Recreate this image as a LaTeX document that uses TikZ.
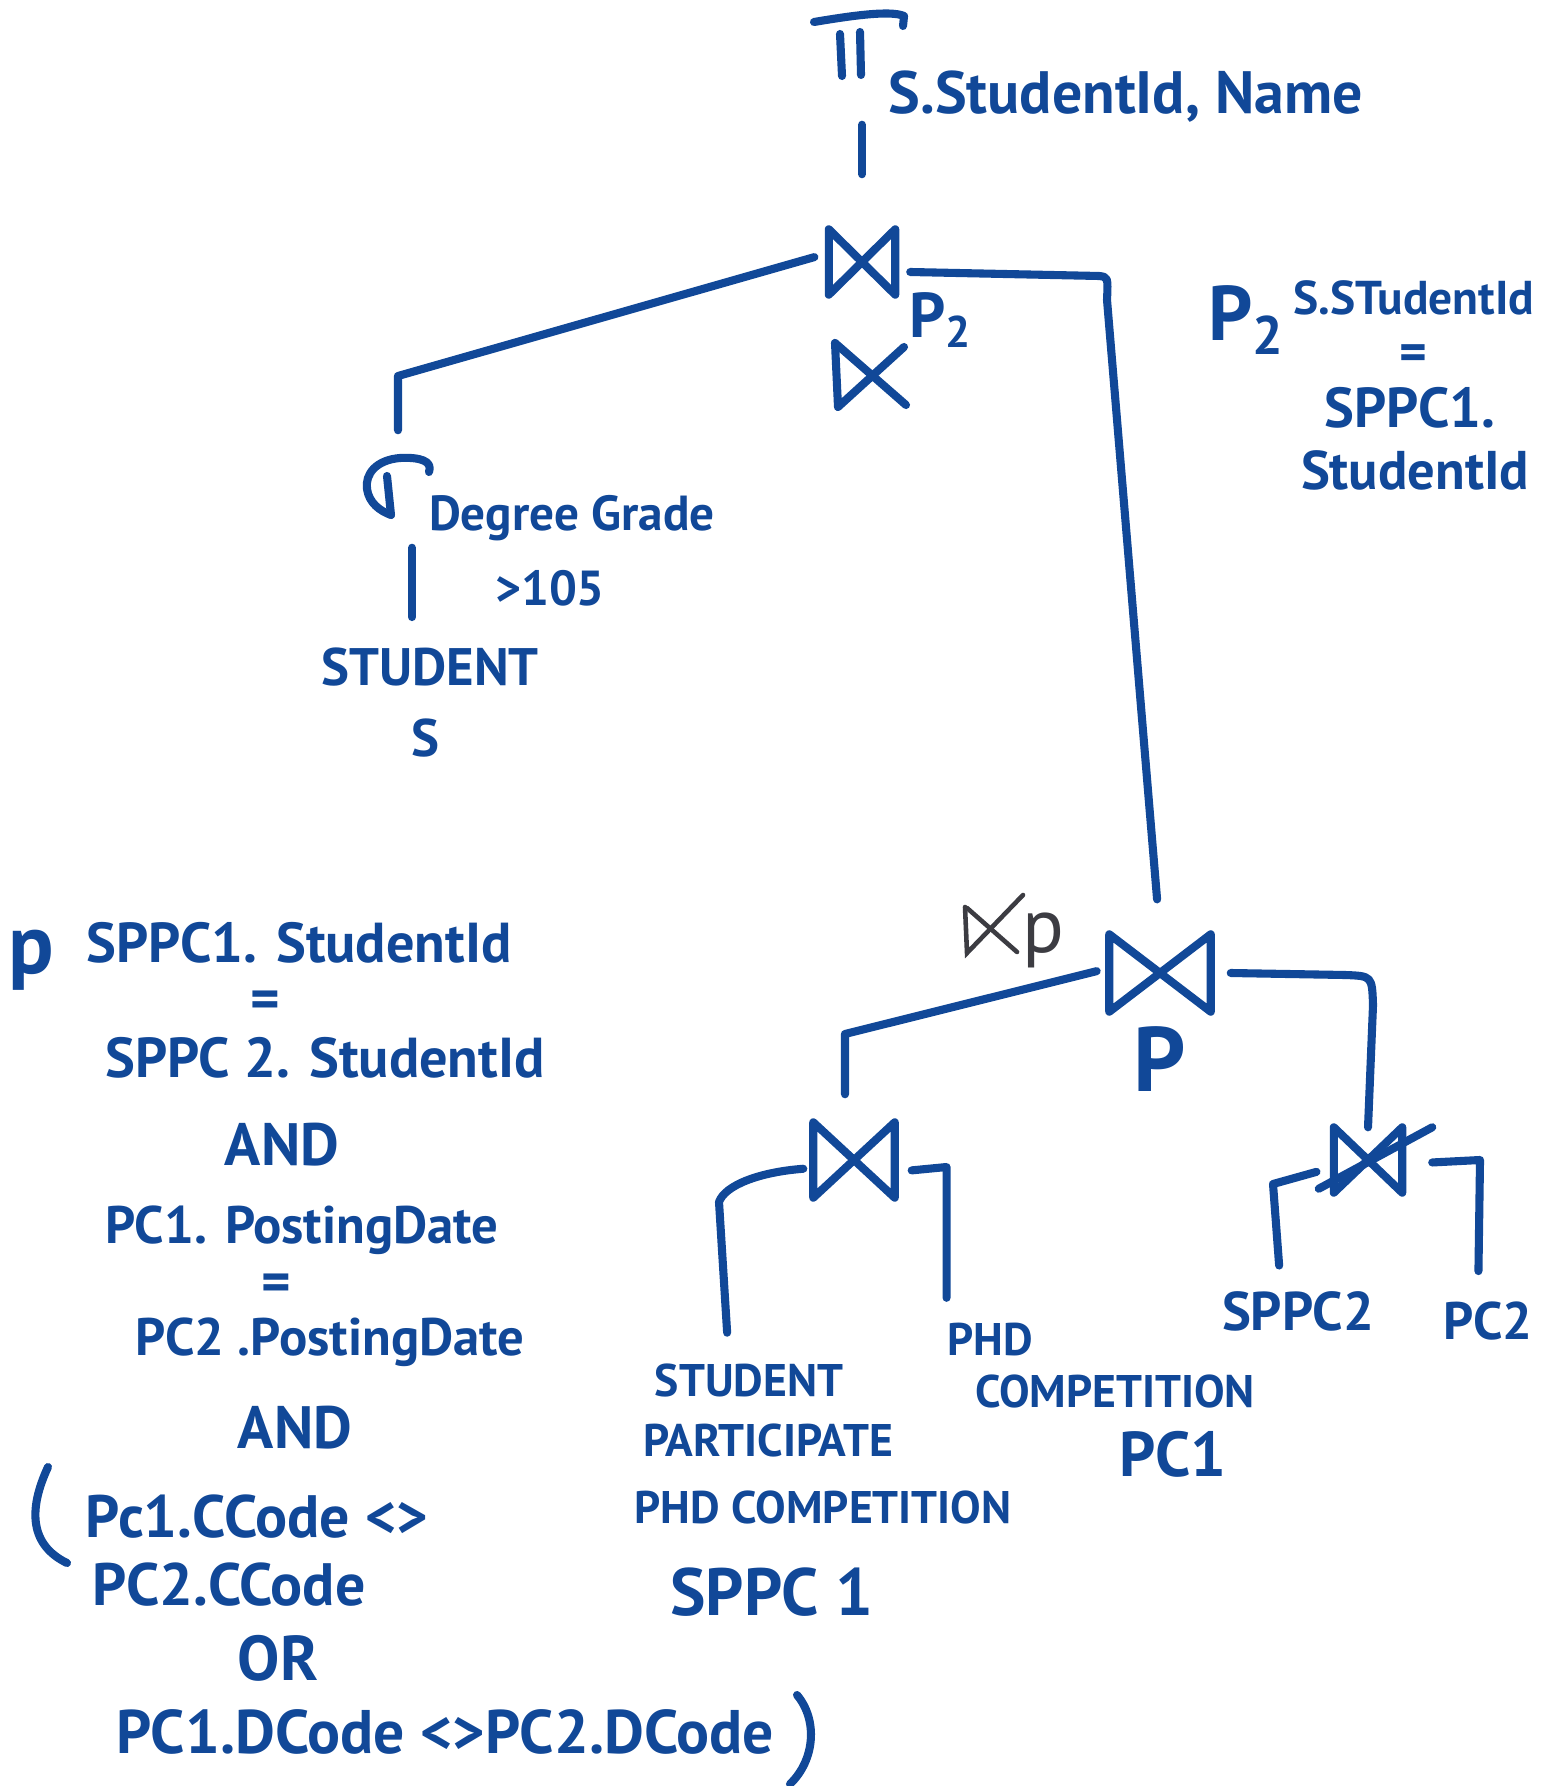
\documentclass[tikz,border=0pt]{standalone}
\usepackage{fontspec}
\setmainfont{PT Sans}
\usetikzlibrary{positioning}

\definecolor{ink}{RGB}{17,72,152}
\definecolor{pencil}{RGB}{60,60,66}

\tikzset{
  stroke/.style={draw=ink, line width=2.3pt, line cap=round, line join=round},
  lab/.style={text=ink, inner sep=0pt, font=\bfseries\fontsize{#1}{#1}\selectfont},
  op/.style={inner sep=0pt}
}

% bowtie drawn over an operator node
\newcommand{\joinmark}[1]{\draw[stroke] (#1.north west) -- (#1.south west) -- (#1.north east) -- (#1.south east) -- cycle;}

\begin{document}
\begin{tikzpicture}[x=0.01cm, y=-0.01cm]
	\useasboundingbox (0,0) rectangle (1543,1786);
	
	% projection
	\node[op, minimum width=0.9cm, minimum height=0.62cm] (proj) at (858,48) {};
	\draw[stroke] (814,22) .. controls (850,16) and (890,10) .. (904,16) -- (903,26);
	\draw[stroke] (840,34) -- (842,76);
	\draw[stroke] (860,32) -- (861,75);
	\node[lab=17, anchor=west] (projattr) at (888,97) {S.StudentId, Name};
	
	% top join
	\node[op, minimum width=0.65cm, minimum height=0.64cm] (top) at (862,262) {};
	\joinmark{top}
	\draw[stroke, shorten <=0.45cm, shorten >=0.55cm] (proj.south -| top.north) -- (top.north);
	\node[lab=18] (toplab) at (941,320) {P\textsubscript{2}};
	\draw[stroke] (835,343) -- (838,407) -- (904,347);
	\draw[stroke] (835,343) -- (906,405);
	
	% condition p2
	\node[lab=22] (p2cond) at (1247,320) {P\textsubscript{2}};
	\node[lab=13.5] (d1) at (1414,298) {S.STudentId};
	\node[lab=15] (d2) at (1413,358) {=};
	\node[lab=16] (d3) at (1410,408) {SPPC1.};
	\node[lab=15.5] (d4) at (1415,470) {StudentId};
	
	% selection on student
	\node[op, minimum width=0.63cm, minimum height=0.64cm] (sel) at (398,485) {};
	\draw[stroke] (429,472) .. controls (433,461) and (420,457) .. (400,458) .. controls (376,460) and (365,474) .. (367,489) .. controls (369,503) and (380,511) .. (391,515);
	\draw[stroke] (387,476) -- (391,515);
	\node[lab=14] (selcond) at (572,518) {Degree Grade};
	\node[lab=14] (selval) at (550,588) {>105};
	\draw[stroke, shorten <=0.15cm, shorten >=0.22cm] ([yshift=0.09cm]top.west) -- (sel.north |- 0,376) -- (sel.north);
	
	\node[lab=15] (stud) at (430,667) {STUDENT};
	\node[lab=15] (studalias) at (425,738) {S};
	\draw[stroke, shorten <=0.3cm, shorten >=0.3cm] ([xshift=0.14cm]sel.south) -- ([xshift=0.14cm]sel.south |- stud.north);
	
	% join p
	\node[op, minimum width=1.0cm, minimum height=0.76cm] (pjoin) at (1160,973) {};
	\joinmark{pjoin}
	\draw[stroke, shorten >=0.35cm] ([xshift=0.15cm, yshift=-0.1cm]top.east) -- (1099,276) .. controls (1108,277) .. (1107,300) -- (pjoin.north);
	\node[lab=26, below=0.14cm of pjoin] (plab) {P};
	\draw[pencil, line width=1.3pt, line cap=round] (965,907) -- (967,953) -- (1023,895);
	\draw[pencil, line width=1.3pt, line cap=round] (967,908) -- (1017,952);
	\node[text=pencil, inner sep=0pt, font=\fontsize{22}{22}\selectfont] (semi) at (1043,940) {p};
	
	% lower joins
	\node[op, minimum width=0.8cm, minimum height=0.74cm] (ljoin) at (854,1160) {};
	\joinmark{ljoin}
	\draw[stroke, shorten <=0.13cm, shorten >=0.28cm] ([yshift=0.05cm]pjoin.west) -- ([xshift=-0.09cm]ljoin.north |- 0,1034) -- ([xshift=-0.09cm]ljoin.north);
	
	\node[op, minimum width=0.67cm, minimum height=0.64cm] (rjoin) at (1368,1160) {};
	\joinmark{rjoin}
	\draw[stroke] ([shift={(-0.15cm,0.04cm)}]rjoin.south west) -- ([xshift=0.3cm]rjoin.north east);
	\draw[stroke] ([xshift=0.2cm]pjoin.east) -- (1345,975) .. controls (1372,976) .. (1373,1005) -- (rjoin.north);
	
	% relations
	\node[lab=13] (stud2) at (749,1380) {STUDENT};
	\node[lab=13] (part) at (768,1440) {PARTICIPATE};
	\node[lab=13] (phdcomp) at (823,1507) {PHD COMPETITION};
	\node[lab=19] (sppc1) at (772,1592) {SPPC 1};
	\node[lab=13] (phd) at (990,1340) {PHD};
	\node[lab=13] (comp) at (1115,1391) {COMPETITION};
	\node[lab=18] (pc1) at (1173,1454) {PC1};
	\node[lab=15.5] (sppc2) at (1298,1311) {SPPC2};
	\node[lab=15] (pc2) at (1488,1321) {PC2};
	
	\draw[stroke, shorten <=0.1cm, shorten >=0.3cm] ([yshift=-0.08cm]ljoin.west) .. controls (760,1172) and (725,1185) .. (719,1202) -- (stud2.north -| 729,0);
	\draw[stroke, shorten <=0.17cm, shorten >=0.25cm] ([yshift=-0.12cm]ljoin.east) -- ([yshift=-0.07cm]ljoin.east -| phd.north west) -- (phd.north west);
	\draw[stroke, shorten <=0.18cm, shorten >=0.25cm] ([yshift=-0.07cm]rjoin.west) -- (1273,1184) -- (sppc2.north -| 1281,0);
	\draw[stroke, shorten <=0.3cm, shorten >=0.3cm] ([yshift=-0.04cm]rjoin.east) -- (1480,1160) -- (pc2.north -| 1478,0);
	
	% condition p
	\node[lab=24] (pcond) at (31,960) {p};
	\node[lab=16] (c1) at (299,943) {SPPC1. StudentId};
	\node[lab=16] (c2) at (265,1005) {=};
	\node[lab=16] (c3) at (325,1058) {SPPC 2. StudentId};
	\node[lab=17] (c4) at (282,1145) {AND};
	\node[lab=15] (c5) at (302,1230) {PC1. PostingDate};
	\node[lab=16] (c6) at (276,1288) {=};
	\node[lab=15] (c7) at (330,1342) {PC2 .PostingDate};
	\node[lab=17] (c8) at (295,1428) {AND};
	\node[lab=17] (c9) at (257,1517) {Pc1.CCode <>};
	\node[lab=17] (c10) at (229,1585) {PC2.CCode};
	\node[lab=18] (c11) at (278,1658) {OR};
	\node[lab=17.5] (c12) at (445,1732) {PC1.DCode <>PC2.DCode};
	\draw[stroke] (48,1467) .. controls (28,1510) and (30,1545) .. (67,1563);
	\draw[stroke] (797,1695) .. controls (818,1720) and (815,1760) .. (790,1784);
\end{tikzpicture}
\end{document}
